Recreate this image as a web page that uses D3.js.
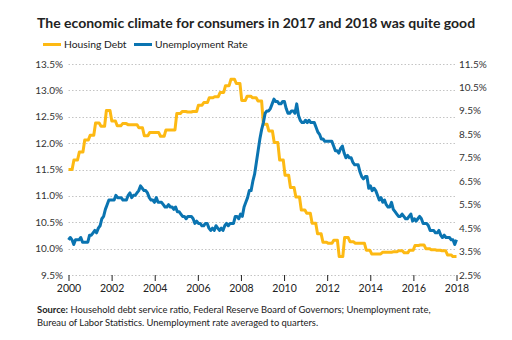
<!DOCTYPE html>
<html>
<head>
<meta charset="utf-8">
<script src="https://cdn.jsdelivr.net/npm/d3@7"></script>
<style>
  body { margin: 0; background: #fff; }
  svg { font-family: Lato, "Open Sans", sans-serif; }
</style>
</head>
<body>
<div id="chart"></div>
<script>
// household debt service ratio, quarterly 2000 Q1 - 2017 Q4 (%)
var housingDebt = [
  11.50, 11.68, 11.83, 12.06, 12.15, 12.38, 12.32, 12.62,
  12.42, 12.33, 12.37, 12.35, 12.35, 12.29, 12.14, 12.20,
  12.20, 12.13, 12.25, 12.25, 12.56, 12.60, 12.59, 12.60,
  12.72, 12.77, 12.86, 12.88, 12.96, 13.09, 13.21, 13.13,
  12.81, 12.89, 12.86, 12.80, 12.36, 12.23, 12.01, 11.68,
  11.39, 11.16, 10.98, 10.73, 10.67, 10.48, 10.28, 10.12,
  10.10, 10.16, 9.85, 10.21, 10.13, 10.10, 10.10, 9.97,
  9.90, 9.90, 9.93, 9.93, 9.94, 9.96, 9.92, 9.97,
  10.06, 10.07, 10.00, 9.98, 9.97, 9.96, 9.88, 9.85
];

// unemployment rate, monthly Jan 2000 - Jun 2018 (%)
var unemployment = [
  4.0, 4.1, 4.0, 3.8, 4.0, 4.0, 4.0, 4.1, 3.9, 3.9, 3.9, 3.9,
  4.2, 4.2, 4.3, 4.4, 4.3, 4.5, 4.6, 4.9, 5.0, 5.3, 5.5, 5.7,
  5.7, 5.7, 5.7, 5.9, 5.8, 5.8, 5.8, 5.7, 5.7, 5.7, 5.9, 6.0,
  5.8, 5.9, 5.9, 6.0, 6.1, 6.3, 6.2, 6.1, 6.1, 6.0, 5.8, 5.7,
  5.7, 5.6, 5.8, 5.6, 5.6, 5.6, 5.5, 5.4, 5.4, 5.5, 5.4, 5.4,
  5.3, 5.4, 5.2, 5.2, 5.1, 5.0, 5.0, 4.9, 5.0, 5.0, 5.0, 4.9,
  4.7, 4.8, 4.7, 4.7, 4.6, 4.6, 4.7, 4.7, 4.5, 4.4, 4.5, 4.4,
  4.6, 4.5, 4.4, 4.5, 4.4, 4.6, 4.7, 4.6, 4.7, 4.7, 4.7, 5.0,
  5.0, 4.9, 5.1, 5.0, 5.4, 5.6, 5.8, 6.1, 6.1, 6.5, 6.8, 7.3,
  7.8, 8.3, 8.7, 9.0, 9.4, 9.5, 9.5, 9.6, 9.8, 10.0, 9.9, 9.9,
  9.8, 9.8, 9.9, 9.9, 9.6, 9.4, 9.4, 9.5, 9.5, 9.4, 9.8, 9.3,
  9.1, 9.0, 9.0, 9.1, 9.0, 9.1, 9.0, 9.0, 9.0, 8.8, 8.6, 8.5,
  8.3, 8.3, 8.2, 8.2, 8.2, 8.2, 8.2, 8.0, 7.8, 7.8, 7.7, 7.9,
  8.0, 7.7, 7.5, 7.6, 7.5, 7.5, 7.3, 7.2, 7.2, 7.2, 6.9, 6.7,
  6.6, 6.7, 6.7, 6.2, 6.3, 6.1, 6.2, 6.1, 5.9, 5.7, 5.8, 5.6,
  5.7, 5.5, 5.4, 5.4, 5.6, 5.3, 5.2, 5.1, 5.0, 5.0, 5.1, 5.0,
  4.9, 4.9, 5.0, 5.1, 4.8, 4.9, 4.8, 4.9, 5.0, 4.9, 4.7, 4.7,
  4.7, 4.6, 4.4, 4.4, 4.4, 4.3, 4.3, 4.4, 4.2, 4.1, 4.2, 4.1,
  4.1, 4.1, 4.0, 4.0, 3.8, 4.0
];

var yearTicks = [2000, 2002, 2004, 2006, 2008, 2010, 2012, 2014, 2016, 2018];
var leftTicks = [9.5, 10.0, 10.5, 11.0, 11.5, 12.0, 12.5, 13.0, 13.5];
var rightTicks = [2.5, 3.5, 4.5, 5.5, 6.5, 7.5, 8.5, 9.5, 10.5, 11.5];

var yellow = "#fdb913";
var blue = "#0a74b1";

var width = 512, height = 340;
var margin = {top: 64, right: 56, bottom: 65, left: 68.5};

var svg = d3.select("#chart").append("svg")
  .attr("width", width)
  .attr("height", height);

var x = d3.scaleLinear()
  .domain([2000, 2018])
  .range([margin.left, width - margin.right + 0.5]);

var yLeft = d3.scaleLinear()
  .domain([9.5, 13.5])
  .range([height - margin.bottom, margin.top]);

var yRight = d3.scaleLinear()
  .domain([2.5, 11.5])
  .range([height - margin.bottom, margin.top]);

// title
svg.append("text")
  .attr("x", 37)
  .attr("y", 28)
  .attr("font-size", 14)
  .attr("font-weight", "bold")
  .attr("fill", "#222")
  .text("The economic climate for consumers in 2017 and 2018 was quite good");

// legend
var legendData = [
  {name: "Housing Debt", color: yellow, x: 43},
  {name: "Unemployment Rate", color: blue, x: 134}
];
var legend = svg.append("g").attr("class", "legend");
legend.selectAll("g").data(legendData)
  .enter()
  .append("g")
  .each(function(d) {
    var g = d3.select(this);
    g.append("line")
      .attr("x1", d.x).attr("x2", d.x + 18)
      .attr("y1", 44.5).attr("y2", 44.5)
      .attr("stroke", d.color)
      .attr("stroke-width", 3);
    g.append("text")
      .attr("x", d.x + 21)
      .attr("y", 48)
      .attr("font-size", 10.3)
      .attr("fill", "#222")
      .text(d.name);
  });

// grid
svg.append("g")
  .attr("class", "grid")
  .selectAll("line")
  .data(leftTicks)
  .join("line")
    .attr("x1", x(2000))
    .attr("x2", x(2018))
    .attr("y1", function(d) { return Math.round(yLeft(d)) + 0.5; })
    .attr("y2", function(d) { return Math.round(yLeft(d)) + 0.5; })
    .attr("stroke", "#c4c4c4")
    .attr("stroke-dasharray", "1.5,2");

// left axis labels
svg.append("g")
  .selectAll("text")
  .data(leftTicks)
  .join("text")
    .attr("x", 63)
    .attr("y", function(d) { return yLeft(d) + 3.5; })
    .attr("text-anchor", "end")
    .attr("font-size", 10)
    .attr("fill", "#333")
    .text(function(d) { return d.toFixed(1) + "%"; });

// right axis labels
svg.append("g")
  .selectAll("text")
  .data(rightTicks)
  .join("text")
    .attr("x", 459)
    .attr("y", function(d) { return yRight(d) + 3.5; })
    .attr("text-anchor", "start")
    .attr("font-size", 10)
    .attr("fill", "#333")
    .text(function(d) { return d.toFixed(1) + "%"; });

// x axis
var xAxis = svg.append("g")
  .attr("transform", "translate(0," + (height - margin.bottom) + ")")
  .call(d3.axisBottom(x)
    .tickValues(yearTicks)
    .tickFormat(d3.format("d"))
    .tickSize(6)
    .tickPadding(4));
xAxis.select(".domain").remove();
xAxis.selectAll(".tick line").attr("stroke", "#222");
xAxis.selectAll(".tick text")
  .attr("font-size", 10.5)
  .attr("font-family", "Lato, sans-serif")
  .attr("fill", "#222");

// housing debt: quarterly values held for each month of the quarter
var housingMonthly = housingDebt.flatMap(function(v) { return [v, v, v]; });
var xHousing = d3.scaleLinear()
  .domain([0, housingMonthly.length - 1])
  .range([x(2000), x(2018)]);

var xUnemp = d3.scaleLinear()
  .domain([0, unemployment.length - 1])
  .range([x(2000), x(2018)]);

svg.append("path")
  .datum(housingMonthly)
  .attr("fill", "none")
  .attr("stroke", yellow)
  .attr("stroke-width", 3)
  .attr("stroke-linejoin", "round")
  .attr("d", d3.line()
    .x(function(d, i) { return xHousing(i); })
    .y(function(d) { return yLeft(d); }));

svg.append("path")
  .datum(unemployment)
  .attr("fill", "none")
  .attr("stroke", blue)
  .attr("stroke-width", 3)
  .attr("stroke-linejoin", "round")
  .attr("d", d3.line()
    .x(function(d, i) { return xUnemp(i); })
    .y(function(d) { return yRight(d); }));

// source note
var source = svg.append("text")
  .attr("x", 37)
  .attr("y", 313)
  .attr("font-size", 9.4)
  .attr("fill", "#222");
source.append("tspan").attr("font-weight", "bold").text("Source:");
source.append("tspan").text(" Household debt service ratio, Federal Reserve Board of Governors; Unemployment rate,");
svg.append("text")
  .attr("x", 37)
  .attr("y", 325.5)
  .attr("font-size", 9.4)
  .attr("fill", "#222")
  .text("Bureau of Labor Statistics. Unemployment rate averaged to quarters.");
</script>
</body>
</html>
